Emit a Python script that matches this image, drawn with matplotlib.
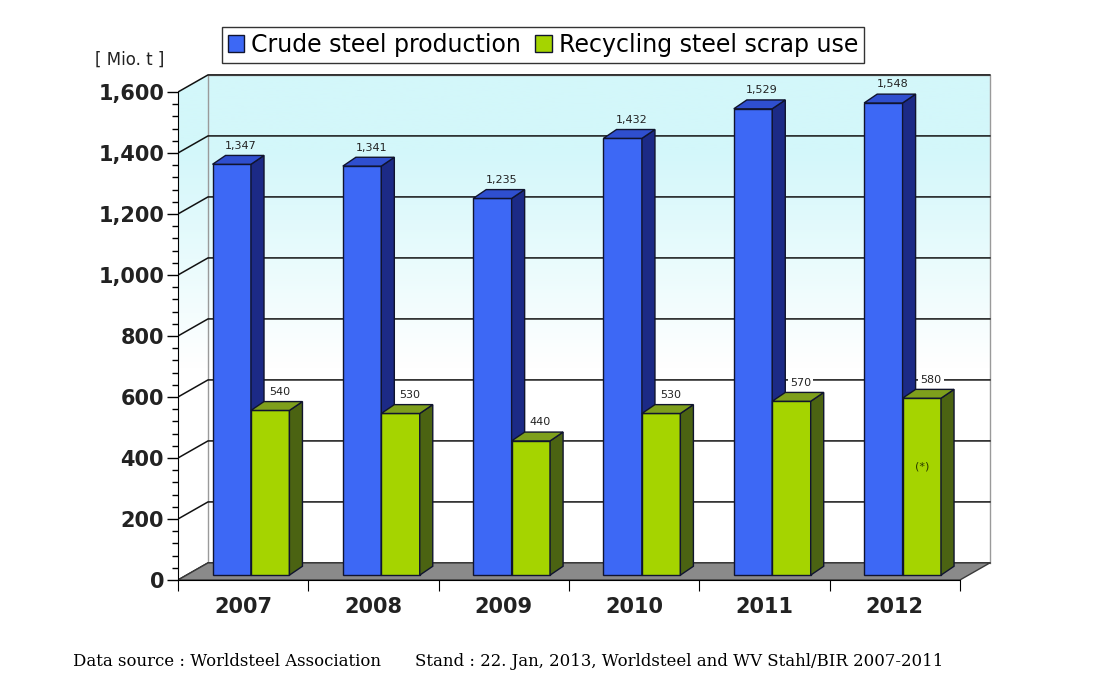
import numpy as np
import matplotlib
matplotlib.use('Agg')
import matplotlib.pyplot as plt
from matplotlib.patches import Polygon
from matplotlib.colors import LinearSegmentedColormap
from matplotlib.ticker import FuncFormatter, FixedLocator

# datos
years = ['2007', '2008', '2009', '2010', '2011', '2012']
crude = [1347, 1341, 1235, 1432, 1529, 1548]
scrap = [540, 530, 440, 530, 570, 580]
series_names = ['Crude steel production', 'Recycling steel scrap use']

# colores
blue_front, blue_side, blue_top = '#3d68f5', '#1c2a86', '#2f4fcf'
green_front, green_side, green_top = '#a5d400', '#4b6312', '#7e9f1c'
edge = '#10142e'
wall_top, wall_bottom = '#d3f7fa', '#ffffff'

# geometria pseudo 3D (unidades de datos)
n = len(years)
DX, DY = 0.23, 56          # profundidad de la pared
dx0, dy0 = 0.06, 16        # posicion frontal de las barras
bdx, bdy = 0.10, 29        # profundidad de las barras
w = 0.295

fig = plt.figure(figsize=(11.14, 6.87), dpi=100)
ax = fig.add_axes([178 / 1114, 107 / 687, 821 / 1114, 518.5 / 687])
ax.set_xlim(0, 6.3)
ax.set_ylim(0, 1700)

# pared del fondo + lateral con degradado
cmap = LinearSegmentedColormap.from_list(
    'wall', [(0, wall_bottom), (0.42, wall_bottom), (0.85, wall_top), (1, wall_top)])
grad = np.linspace(0, 1, 256).reshape(-1, 1)
im = ax.imshow(grad, cmap=cmap, origin='lower', aspect='auto',
               extent=[0, n + DX, 0, 1600 + DY], zorder=0)
wall = Polygon([(0, 0), (0, 1600), (DX, 1600 + DY), (n + DX, 1600 + DY),
                (n + DX, DY), (n, 0)], closed=True, facecolor='none',
               edgecolor='none')
ax.add_patch(wall)
im.set_clip_path(wall)

def wall_color(v):
    return cmap(min(max(v / (1600 + DY), 0), 1))

# bordes de la pared
ax.plot([DX, DX, n + DX, n + DX], [DY, 1600 + DY, 1600 + DY, DY],
        color='#9a9a9a', lw=1, zorder=1)

# lineas de cuadricula
for v in range(0, 1601, 200):
    ax.plot([0, DX, n + DX], [v, v + DY, v + DY], color='#111111',
            lw=1.1, zorder=1)

# suelo
floor = Polygon([(0, 0), (DX, DY), (n + DX, DY), (n, 0)], closed=True,
                facecolor='#8a8a8a', edgecolor='#3a3a3a', lw=1, zorder=2)
ax.add_patch(floor)

def draw_bar(x0, v, fc, sc, tc, z):
    xr = x0 + w
    side = Polygon([(xr, dy0), (xr + bdx, dy0 + bdy), (xr + bdx, v + dy0 + bdy),
                    (xr, v + dy0)], closed=True, facecolor=sc, edgecolor=edge,
                   lw=1, zorder=z)
    top = Polygon([(x0, v + dy0), (x0 + bdx, v + dy0 + bdy),
                   (xr + bdx, v + dy0 + bdy), (xr, v + dy0)], closed=True,
                  facecolor=tc, edgecolor=edge, lw=1, zorder=z)
    ax.add_patch(side)
    ax.add_patch(top)

centers = np.arange(n) + 0.5
bars_b = ax.bar(centers + dx0 - w, crude, width=w, bottom=dy0, align='edge',
                color=blue_front, edgecolor=edge, lw=1, zorder=3)
bars_g = ax.bar(centers + dx0, scrap, width=w, bottom=dy0, align='edge',
                color=green_front, edgecolor=edge, lw=1, zorder=5)
for i in range(n):
    draw_bar(centers[i] + dx0 - w, crude[i], blue_front, blue_side, blue_top, 3)
    draw_bar(centers[i] + dx0, scrap[i], green_front, green_side, green_top, 5)

# etiquetas de valores
for i in range(n):
    for x0, v in [(centers[i] + dx0 - w, crude[i]), (centers[i] + dx0, scrap[i])]:
        yv = v + dy0 + bdy + 32
        ax.text(x0 + w / 2 + 0.07, yv, f'{v:,}', ha='center', va='center',
                fontsize=8, color='#222222', zorder=6,
                bbox=dict(facecolor=wall_color(yv), edgecolor='none', pad=1.5))

ax.text(centers[-1] + dx0 + w / 2, scrap[-1] * 0.64, '(*)', ha='center',
        va='center', fontsize=8, color='#2a3a00', zorder=6)

# ejes
for s in ['top', 'right']:
    ax.spines[s].set_visible(False)
ax.spines['left'].set_bounds(0, 1600)
ax.spines['bottom'].set_bounds(0, n)
ax.spines['left'].set_zorder(7)
ax.spines['bottom'].set_zorder(7)
ax.set_yticks(range(0, 1601, 200))
ax.yaxis.set_minor_locator(FixedLocator([v for v in range(0, 1601, 40) if v % 200]))
ax.yaxis.set_major_formatter(FuncFormatter(lambda v, p: f'{int(v):,}'))
ax.tick_params(axis='y', which='major', length=8, width=1, direction='out',
               labelsize=15, pad=2)
ax.tick_params(axis='y', which='minor', length=4, width=1, direction='out')
for lab in ax.get_yticklabels():
    lab.set_fontweight('bold')
    lab.set_color('#222222')
ax.set_xticks(range(0, n + 1))
ax.set_xticklabels([])
ax.set_xticks(centers, minor=True)
ax.set_xticklabels(years, minor=True, fontsize=15, fontweight='bold',
                   color='#222222')
ax.tick_params(axis='x', which='major', length=8, direction='out')
ax.tick_params(axis='x', which='minor', length=0, pad=12)

fig.text(130 / 1114, 1 - 60 / 687, '[ Mio. t ]', ha='center', va='center',
         fontsize=12, color='#222222')

leg = fig.legend([bars_b, bars_g], series_names, loc='upper center',
                 bbox_to_anchor=(543 / 1114, 1 - 27 / 687), ncol=2,
                 fontsize=17, frameon=True, fancybox=False, handlelength=0.7,
                 handleheight=0.7, handletextpad=0.3, columnspacing=0.6,
                 borderpad=0.25, borderaxespad=0)
leg.get_frame().set_edgecolor('black')
leg.get_frame().set_linewidth(1)

fig.text(73 / 1114, 1 - 661 / 687, 'Data source : Worldsteel Association',
         ha='left', va='center', fontsize=11.9, family='DejaVu Serif')
fig.text(415 / 1114, 1 - 661 / 687,
         'Stand : 22. Jan, 2013, Worldsteel and WV Stahl/BIR 2007-2011',
         ha='left', va='center', fontsize=11.9, family='DejaVu Serif')

fig.savefig('out.png', dpi=100)
